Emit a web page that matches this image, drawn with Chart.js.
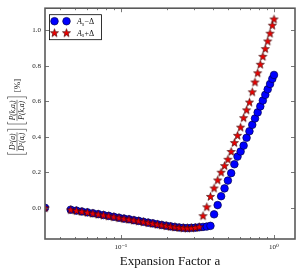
<!DOCTYPE html>
<html>
<head>
<meta charset="utf-8">
<script src="https://cdn.jsdelivr.net/npm/chart.js@4.4.0/dist/chart.umd.min.js"></script>
<style>
  html, body { margin: 0; padding: 0; background: #fff; }
  #wrap { width: 300px; height: 275px; }
</style>
</head>
<body>
<div id="wrap"><canvas id="chart" width="300" height="275"></canvas></div>
<script>
// expansion factor a (x), and the two ratio curves
const aValues = [
  0.032,
  0.0471, 0.0513, 0.0557, 0.0605, 0.0657, 0.0712, 0.0771, 0.0834, 0.0901, 0.0973,
  0.1049, 0.1131, 0.1217, 0.1308, 0.1405, 0.1509, 0.1617, 0.1732, 0.1852, 0.1979,
  0.2113, 0.2254, 0.2402, 0.2557, 0.2719, 0.2888, 0.3064, 0.3249, 0.3440, 0.3640,
  0.3848, 0.4064, 0.4286, 0.4516, 0.4754, 0.5000, 0.5253, 0.5513, 0.5779, 0.6053,
  0.6334, 0.6621, 0.6913, 0.7211, 0.7514, 0.7821, 0.8138, 0.8454, 0.8774, 0.9097,
  0.9423, 0.9750, 1.0
];
const minusValues = [
  0.0,
  -0.011, -0.016, -0.021, -0.026, -0.031, -0.036, -0.041, -0.046, -0.051, -0.056,
  -0.061, -0.065, -0.070, -0.074, -0.079, -0.084, -0.088, -0.093, -0.097, -0.101,
  -0.105, -0.108, -0.111, -0.113, -0.114, -0.113, -0.112, -0.110, -0.108, -0.106,
  -0.102, -0.037, 0.015, 0.065, 0.109, 0.153, 0.195, 0.245, 0.288, 0.317,
  0.350, 0.394, 0.431, 0.467, 0.503, 0.537, 0.571, 0.604, 0.636, 0.667,
  0.697, 0.726, 0.748
];
const plusValues = [
  0.0,
  -0.011, -0.016, -0.021, -0.026, -0.031, -0.036, -0.041, -0.046, -0.051, -0.056,
  -0.061, -0.065, -0.070, -0.074, -0.079, -0.084, -0.088, -0.093, -0.097, -0.101,
  -0.105, -0.108, -0.111, -0.113, -0.114, -0.113, -0.111, -0.107, -0.045, 0.005,
  0.064, 0.111, 0.156, 0.200, 0.237, 0.273, 0.317, 0.367, 0.408, 0.454,
  0.507, 0.551, 0.595, 0.653, 0.708, 0.760, 0.808, 0.853, 0.896, 0.939,
  0.983, 1.028, 1.063
];
const legendLabels = ['−Δ', '+Δ'];
const yTicks = [0.0, 0.2, 0.4, 0.6, 0.8, 1.0];

const serif = "'Liberation Serif', 'DejaVu Serif', serif";

// filled five point star used as the marker of the +Δ series
const starImg = document.createElement('canvas');
starImg.width = 11;
starImg.height = 11;
(() => {
  const c = starImg.getContext('2d');
  c.beginPath();
  for (let i = 0; i < 10; i++) {
    const r = i % 2 === 0 ? 4.3 : 1.8;
    const ang = -Math.PI / 2 + i * Math.PI / 5;
    const px = 5.5 + r * Math.cos(ang);
    const py = 5.9 + r * Math.sin(ang);
    if (i === 0) c.moveTo(px, py); else c.lineTo(px, py);
  }
  c.closePath();
  c.fillStyle = '#ee0000';
  c.fill();
  c.lineWidth = 0.6;
  c.strokeStyle = '#300000';
  c.stroke();
})();

const toPoints = (ys) => aValues.map((a, i) => ({ x: a, y: ys[i] }));

// rotated y label: [D²(a)/D²(aᵢ)] [P(k,aᵢ)/P(k,a)] [%], drawn with stacked fractions
function drawYTitle(ctx, cx, cy) {
  const fracFont = 'italic 7.6px ' + serif;
  const layout = (draw) => {
    let x = 0;
    const bracket = (open) => {
      if (draw) {
        ctx.beginPath();
        const vx = open ? x + 0.8 : x + 3;
        const tx = open ? x + 3 : x + 0.8;
        ctx.moveTo(tx, -9.5); ctx.lineTo(vx, -9.5); ctx.lineTo(vx, 9.5); ctx.lineTo(tx, 9.5);
        ctx.stroke();
      }
      x += 4;
    };
    const frac = (num, den) => {
      ctx.font = fracFont;
      const wn = ctx.measureText(num).width;
      const wd = ctx.measureText(den).width;
      const w = Math.max(wn, wd) + 1;
      if (draw) {
        ctx.fillText(num, x + (w - wn) / 2, -1.8);
        ctx.fillText(den, x + (w - wd) / 2, 7.4);
        ctx.beginPath();
        ctx.moveTo(x, 0); ctx.lineTo(x + w, 0);
        ctx.stroke();
      }
      x += w;
    };
    bracket(true); frac('D²(a)', 'D²(aᵢ)'); bracket(false);
    x += 3.5;
    bracket(true); frac('P(k,aᵢ)', 'P(k,a)'); bracket(false);
    x += 3.5;
    ctx.font = '9px ' + serif;
    if (draw) ctx.fillText('[%]', x, 3);
    x += ctx.measureText('[%]').width;
    return x;
  };
  ctx.save();
  ctx.translate(cx, cy);
  ctx.rotate(-Math.PI / 2);
  const total = layout(false);
  ctx.translate(-total / 2, 0);
  ctx.fillStyle = '#222';
  ctx.strokeStyle = '#222';
  ctx.lineWidth = 0.55;
  ctx.textBaseline = 'alphabetic';
  layout(true);
  ctx.restore();
}

// frame with inward ticks on all four sides, the boxed legend and the y label
const framePlugin = {
  id: 'framePlugin',
  afterDatasetsDraw(chart) {
    const { ctx, chartArea: ca } = chart;
    const xs = chart.scales.x;
    const ys = chart.scales.y;
    ctx.save();
    ctx.strokeStyle = '#555';
    ctx.lineWidth = 0.8;
    ctx.beginPath();
    yTicks.forEach((v) => {
      const py = Math.round(ys.getPixelForValue(v)) + 0.5;
      ctx.moveTo(ca.left, py); ctx.lineTo(ca.left + 4, py);
      ctx.moveTo(ca.right, py); ctx.lineTo(ca.right - 4, py);
    });
    for (let e = -2; e <= 0; e++) {
      for (let m = 1; m <= 9; m++) {
        const v = m * Math.pow(10, e);
        if (v < xs.min || v > xs.max) continue;
        const px = Math.round(xs.getPixelForValue(v)) + 0.5;
        const len = m === 1 ? 4 : 2;
        ctx.moveTo(px, ca.bottom); ctx.lineTo(px, ca.bottom - len);
        ctx.moveTo(px, ca.top); ctx.lineTo(px, ca.top + len);
      }
    }
    ctx.stroke();
    ctx.lineWidth = 1.6;
    ctx.strokeStyle = '#5a5a5a';
    ctx.strokeRect(ca.left, ca.top, ca.right - ca.left, ca.bottom - ca.top);
    ctx.restore();
  },
  afterDraw(chart) {
    const { ctx, chartArea: ca } = chart;
    drawYTitle(ctx, 17, 117);
    const bx = ca.left + 4, by = ca.top + 6, bw = 52, bh = 25;
    ctx.save();
    ctx.fillStyle = '#fff';
    ctx.fillRect(bx, by, bw, bh);
    ctx.strokeStyle = '#000';
    ctx.lineWidth = 0.8;
    ctx.strokeRect(bx + 0.5, by + 0.5, bw, bh);
    const rows = [by + 7, by + 18.5];
    rows.forEach((ry, i) => {
      [bx + 5.5, bx + 17.5].forEach((mx) => {
        if (i === 0) {
          ctx.beginPath();
          ctx.arc(mx, ry, 3.8, 0, Math.PI * 2);
          ctx.fillStyle = '#0000ff';
          ctx.fill();
          ctx.lineWidth = 0.7;
          ctx.strokeStyle = '#000050';
          ctx.stroke();
        } else {
          ctx.drawImage(starImg, mx - 5.5, ry - 5.5);
        }
      });
      ctx.fillStyle = '#111';
      ctx.textBaseline = 'alphabetic';
      ctx.font = 'italic 8px ' + serif;
      const tx = bx + 28;
      ctx.fillText('A', tx, ry + 3);
      const wA = ctx.measureText('A').width;
      ctx.font = 'italic 5.5px ' + serif;
      ctx.fillText('s', tx + wA, ry + 4.5);
      const ws = ctx.measureText('s').width;
      ctx.font = '8px ' + serif;
      ctx.fillText(legendLabels[i], tx + wA + ws + 0.5, ry + 3);
    });
    ctx.restore();
  }
};

new Chart(document.getElementById('chart'), {
  type: 'scatter',
  data: {
    datasets: [
      {
        label: 'As−Δ',
        data: toPoints(minusValues),
        pointStyle: 'circle',
        pointRadius: 3.8,
        pointBackgroundColor: '#0000ff',
        pointBorderColor: '#000050',
        pointBorderWidth: 0.7,
        order: 2
      },
      {
        label: 'As+Δ',
        data: toPoints(plusValues),
        pointStyle: starImg,
        pointRadius: 4,
        order: 1
      }
    ]
  },
  options: {
    responsive: false,
    animation: false,
    events: [],
    layout: { padding: { top: 5, right: 2, left: 0, bottom: 0 } },
    plugins: {
      legend: { display: false },
      tooltip: { enabled: false }
    },
    scales: {
      x: {
        type: 'logarithmic',
        min: 0.032,
        max: 1.371,
        border: { display: false },
        grid: { display: false, drawTicks: false },
        ticks: {
          autoSkip: false,
          maxRotation: 0,
          includeBounds: false,
          padding: 4,
          color: '#222',
          font: { family: serif, size: 7 },
          callback: (v) => {
            if (Math.abs(v - 0.1) < 1e-9) return '10⁻¹';
            if (Math.abs(v - 1) < 1e-9) return '10⁰';
            return '';
          }
        },
        title: {
          display: true,
          text: 'Expansion Factor a',
          color: '#111',
          font: { family: serif, size: 13 },
          padding: { top: 2, bottom: 6 }
        },
        afterFit: (s) => { s.height = 36; }
      },
      y: {
        min: -0.176,
        max: 1.124,
        border: { display: false },
        grid: { display: false, drawTicks: false },
        afterBuildTicks: (s) => { s.ticks = yTicks.map((v) => ({ value: v })); },
        ticks: {
          padding: 4,
          color: '#222',
          font: { family: serif, size: 7 },
          callback: (v) => v.toFixed(1)
        },
        title: { display: false },
        afterFit: (s) => { s.width = 45; }
      }
    }
  },
  plugins: [framePlugin]
});
</script>
</body>
</html>
